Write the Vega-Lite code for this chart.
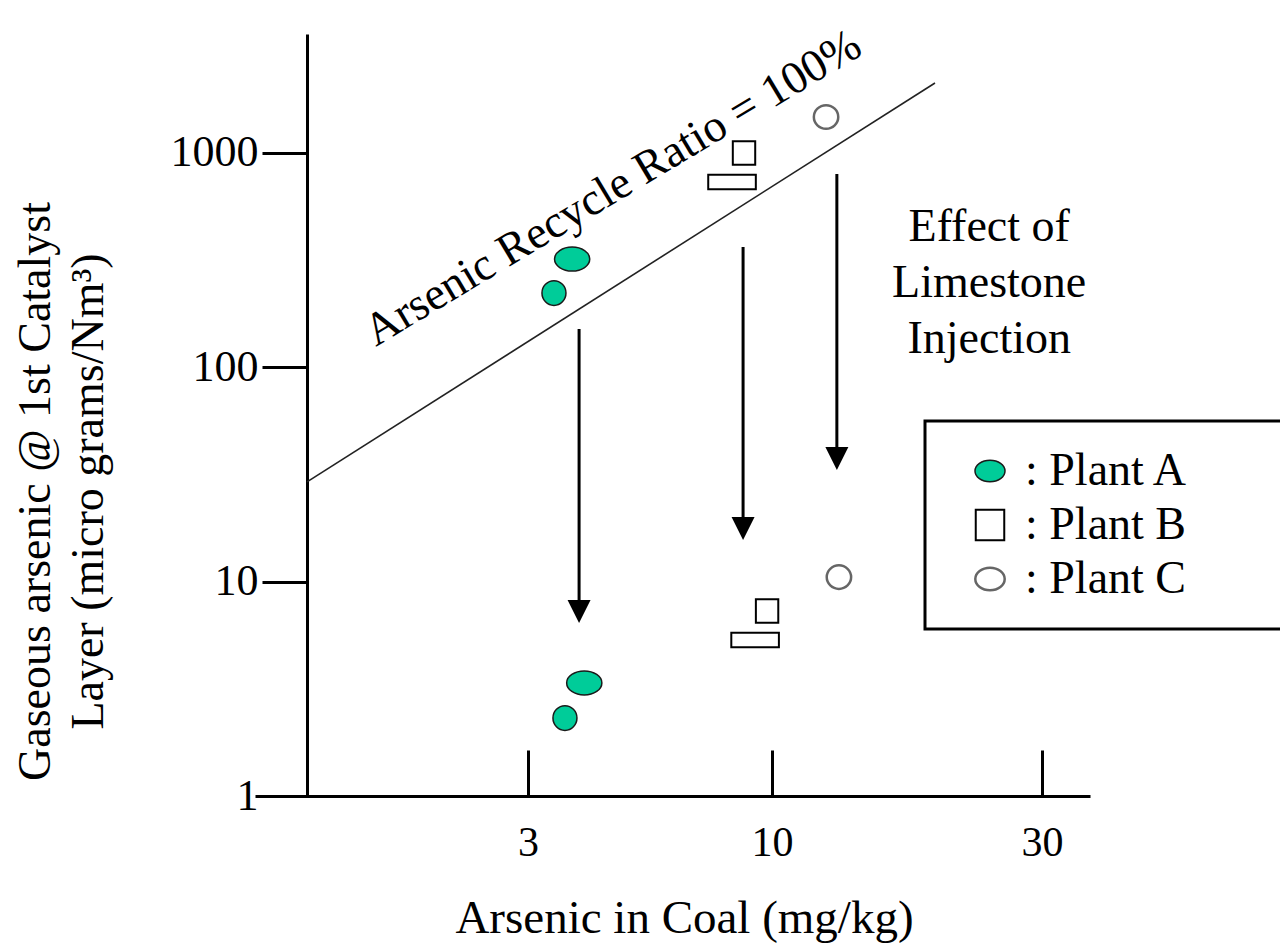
{
  "$schema": "https://vega.github.io/schema/vega-lite/v6.json",
  "width": 835,
  "height": 762,
  "autosize": {"type": "none"},
  "padding": {"left": 255, "top": 34, "right": 190, "bottom": 147},
  "background": "white",
  "config": {"view": {"stroke": null}, "font": "Liberation Serif", "axis": {"grid": false}, "legend": {"strokeWidth": 3}},
  "datasets": {
    "points": [
      {"plant": "Plant A", "marker": "A1", "phase": "before", "coal": 3.73, "gas": 320},
      {"plant": "Plant A", "marker": "A2", "phase": "before", "coal": 3.41, "gas": 222},
      {"plant": "Plant A", "marker": "A1", "phase": "after", "coal": 3.96, "gas": 3.37},
      {"plant": "Plant A", "marker": "A2", "phase": "after", "coal": 3.60, "gas": 2.31},
      {"plant": "Plant B", "marker": "B1", "phase": "before", "coal": 8.71, "gas": 1000},
      {"plant": "Plant B", "marker": "B2", "phase": "before", "coal": 8.21, "gas": 732},
      {"plant": "Plant B", "marker": "B1", "phase": "after", "coal": 9.76, "gas": 7.30},
      {"plant": "Plant B", "marker": "B2", "phase": "after", "coal": 9.20, "gas": 5.34},
      {"plant": "Plant C", "marker": "C1", "phase": "before", "coal": 12.46, "gas": 1472},
      {"plant": "Plant C", "marker": "C1", "phase": "after", "coal": 13.13, "gas": 10.5}
    ],
    "ratio": [
      {"coal": 1, "gas": 29.2},
      {"coal": 19.41, "gas": 2120}
    ],
    "arrows": [
      {"coal": 3.86, "top": 151, "base": 8.21, "tip": 6.41},
      {"coal": 8.67, "top": 364, "base": 19.8, "tip": 15.64},
      {"coal": 13.02, "top": 798, "base": 42.5, "tip": 33.2}
    ],
    "ratioLabel": [
      {"coal": 4.725, "gas": 603, "label": "Arsenic Recycle Ratio = 100%"}
    ],
    "effect": [
      {"coal": 24.2, "gas": 388, "label": "Effect of\nLimestone\nInjection"}
    ]
  },
  "encoding": {
    "x": {
      "field": "coal",
      "type": "quantitative",
      "scale": {"type": "log", "domain": [0.772, 3, 10, 30, 36.5], "range": [0, 273, 517, 787, 835], "nice": false, "zero": false},
      "axis": {
        "values": [3, 10, 30],
        "format": "d",
        "domainColor": "black",
        "domainWidth": 3,
        "tickColor": "black",
        "tickWidth": 3,
        "tickSize": -46,
        "labelFont": "Liberation Serif",
        "labelFontSize": 42,
        "labelColor": "black",
        "labelPadding": 72,
        "labelFlush": false,
        "labelOverlap": false,
        "title": "Arsenic in Coal (mg/kg)",
        "titleFont": "Liberation Serif",
        "titleFontSize": 47,
        "titleFontWeight": "normal",
        "titleColor": "black",
        "titleX": 429,
        "titleY": 136,
        "titleAlign": "center",
        "titleBaseline": "alphabetic"
      }
    },
    "y": {
      "field": "gas",
      "type": "quantitative",
      "scale": {"type": "log", "domain": [1, 3590], "nice": false, "zero": false},
      "axis": {
        "values": [1, 10, 100, 1000],
        "format": "d",
        "offset": -52,
        "domainColor": "black",
        "domainWidth": 3,
        "tickColor": "black",
        "tickWidth": 3,
        "tickSize": 45,
        "labelFont": "Liberation Serif",
        "labelFontSize": 44,
        "labelColor": "black",
        "labelAlign": "right",
        "labelBaseline": "middle",
        "labelPadding": 4,
        "labelFlush": false,
        "labelOverlap": false,
        "title": ["Gaseous arsenic @ 1st Catalyst", "Layer (micro grams/Nm³)"],
        "titleFont": "Liberation Serif",
        "titleFontSize": 46,
        "titleFontWeight": "normal",
        "titleColor": "black",
        "titleAngle": -90,
        "titleAlign": "center",
        "titleBaseline": "alphabetic",
        "titleLineHeight": 53,
        "titleX": -258,
        "titleY": 457
      }
    }
  },
  "layer": [
    {
      "data": {"name": "ratio"},
      "mark": {"type": "line", "color": "#222", "strokeWidth": 1.6},
      "encoding": {}
    },
    {
      "data": {"name": "points"},
      "mark": {"type": "point", "filled": true, "opacity": 1, "size": 1600},
      "encoding": {
        "shape": {
          "field": "marker",
          "type": "nominal",
          "scale": {
            "domain": ["A1", "A2", "B1", "B2", "C1"],
            "range": [
              "M-0.88,0A0.88,0.6,0,1,0,0.88,0A0.88,0.6,0,1,0,-0.88,0Z",
              "M-0.6,0A0.6,0.62,0,1,0,0.6,0A0.6,0.62,0,1,0,-0.6,0Z",
              "M-0.56,-0.59H0.56V0.59H-0.56Z",
              "M-1.19,-0.36H1.19V0.36H-1.19Z",
              "M-0.61,0A0.61,0.59,0,1,0,0.61,0A0.61,0.59,0,1,0,-0.61,0Z"
            ]
          },
          "legend": null
        },
        "fill": {
          "field": "plant",
          "type": "nominal",
          "scale": {"domain": ["Plant A", "Plant B", "Plant C"], "range": ["#00CC99", "transparent", "transparent"]},
          "legend": {
            "orient": "none",
            "legendX": 670,
            "legendY": 387,
            "title": null,
            "direction": "vertical",
            "labelExpr": "': ' + datum.label + ' ⠀⠀'",
            "labelFont": "Liberation Serif",
            "labelFontSize": 46,
            "labelColor": "black",
            "labelLimit": 500,
            "labelOffset": 12,
            "symbolOffset": 15,
            "symbolSize": 900,
            "symbolType": {"expr": "datum.value === 'Plant A' ? 'M-1,0A1,0.72,0,1,0,1,0A1,0.72,0,1,0,-1,0Z' : datum.value === 'Plant B' ? 'M-0.95,-1.02H0.95V1.02H-0.95Z' : 'M-0.98,0A0.98,0.75,0,1,0,0.98,0A0.98,0.75,0,1,0,-0.98,0Z'"},
            "symbolStrokeWidth": {"expr": "datum.value === 'Plant B' ? 3 : 1.6"},
            "rowPadding": 8,
            "padding": 27,
            "strokeColor": "black"
          }
        },
        "stroke": {
          "field": "plant",
          "type": "nominal",
          "scale": {"domain": ["Plant A", "Plant B", "Plant C"], "range": ["#1a1a1a", "black", "#666"]},
          "legend": null
        },
        "strokeWidth": {
          "field": "plant",
          "type": "ordinal",
          "scale": {"domain": ["Plant A", "Plant B", "Plant C"], "range": [1.5, 2.5, 1.8]},
          "legend": null
        }
      }
    },
    {
      "data": {"name": "arrows"},
      "mark": {"type": "rule", "color": "black", "strokeWidth": 3},
      "encoding": {
        "y": {"field": "top", "type": "quantitative", "scale": {"type": "log"}},
        "y2": {"field": "base"}
      }
    },
    {
      "data": {"name": "arrows"},
      "mark": {"type": "point", "filled": true, "opacity": 1, "color": "black", "size": 529, "shape": "M-1,-2L1,-2L0,0Z"},
      "encoding": {
        "y": {"field": "tip", "type": "quantitative", "scale": {"type": "log"}}
      }
    },
    {
      "data": {"name": "ratioLabel"},
      "mark": {"type": "text", "font": "Liberation Serif", "fontSize": 46, "angle": -31, "align": "center", "baseline": "alphabetic", "color": "black"},
      "encoding": {"text": {"field": "label"}}
    },
    {
      "data": {"name": "effect"},
      "mark": {"type": "text", "font": "Liberation Serif", "fontSize": 46, "align": "center", "baseline": "alphabetic", "lineBreak": "\n", "lineHeight": 56, "color": "black"},
      "encoding": {"text": {"field": "label"}}
    }
  ]
}
